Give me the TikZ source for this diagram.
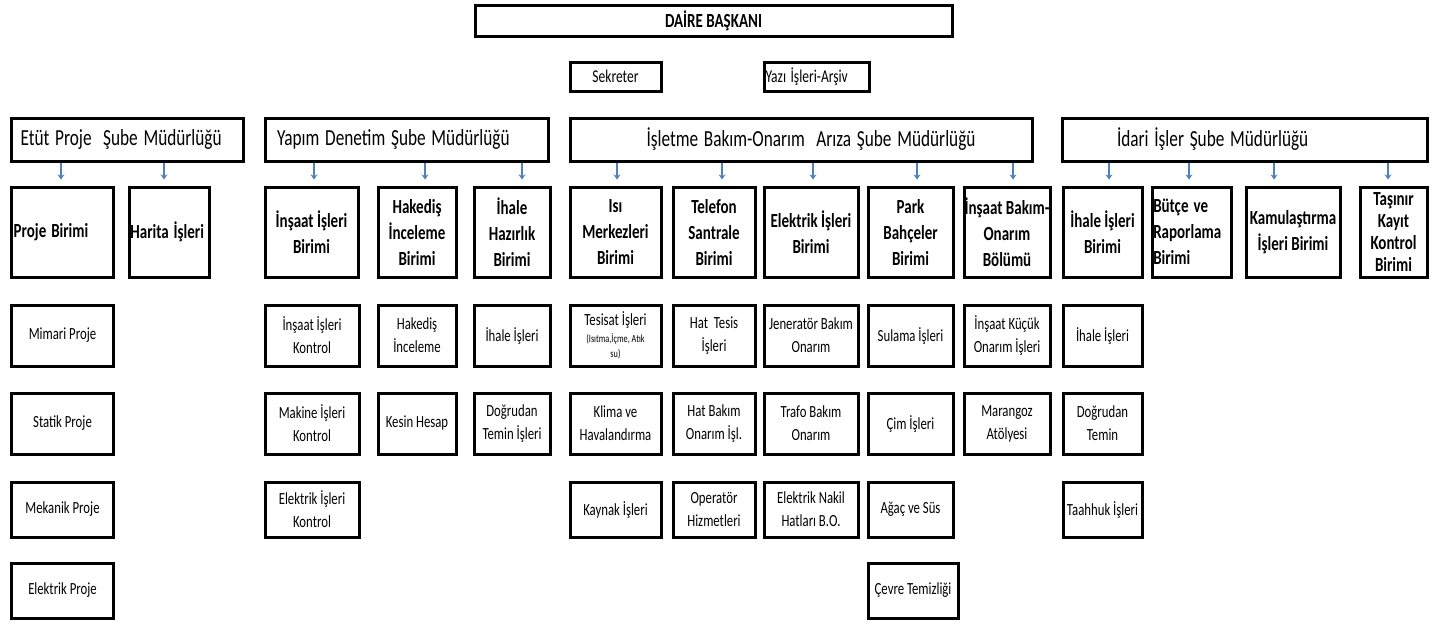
\documentclass[tikz,border=0pt]{standalone}
\usepackage{fontspec}
\setmainfont{Carlito}
\usetikzlibrary{arrows.meta,calc}
\definecolor{okmavi}{RGB}{80,129,189}

\begin{document}
\begin{tikzpicture}[x=1.3333pt,y=-1pt,xscale=0.75,
  every node/.append style={transform shape},
  kutustil/.style={draw,line width=3pt,inner sep=0pt},
  baskan/.style={kutustil,font=\bfseries\fontsize{20}{24}\selectfont},
  buro/.style={kutustil,font=\fontsize{18}{22}\selectfont},
  sube/.style={kutustil,align=left,font=\fontsize{23}{28}\selectfont},
  birim/.style={kutustil,align=center,font=\bfseries\fontsize{20}{26}\selectfont},
  altbirim/.style={kutustil,align=center,font=\fontsize{17}{23}\selectfont},
  okstil/.style={okmavi,line width=2pt,-{Stealth[length=5pt,width=7pt]}}]
\newcommand{\kutu}[7]{
  \node[#1,minimum width={(#5-#3)*4/3},minimum height={#6-#4}] (#2) at ({(#3+#5)/2},{(#4+#6)/2}) {#7};
}
\newcommand{\okciz}[3]{
  \draw[okstil] ($(#2.north |- #1.south)+(#3,0)$) -- ($(#2.north)+(#3,-6)$);
}
\useasboundingbox (0,0) rectangle (1445,624);

% baskanlik
\kutu{baskan}{daire}{475}{5}{952}{36}{DAİRE BAŞKANI}
\kutu{buro}{sekreter}{570}{62}{661}{91}{Sekreter}
\kutu{buro,align=left,text width=136pt}{yazi}{764}{62}{869}{91}{\mbox{Yazı İşleri-Arşiv}}

% sube mudurlukleri
\kutu{sube,inner xsep=10.7pt,text width=285pt}{etut}{12}{118}{243}{161}{\mbox{Etüt Proje~~Şube Müdürlüğü}}
\kutu{sube,inner xsep=16pt,text width=345pt}{yapim}{265}{118}{548}{161}{\mbox{Yapım Denetim Şube Müdürlüğü}}
\kutu{sube,inner xsep=102pt,text width=412pt}{isletme}{570}{118}{1032}{161}{\mbox{İşletme Bakım-Onarım~~Arıza Şube Müdürlüğü}}
\kutu{sube,inner xsep=73pt,text width=340pt}{idari}{1062}{118}{1427}{161}{\mbox{İdari İşler Şube Müdürlüğü}}

% birimler
\kutu{birim,align=left,text width=130pt}{proje}{12}{187}{113}{277}{Proje Birimi}
\kutu{birim,align=left,text width=103pt}{harita}{129}{187}{209}{277}{Harita İşleri}
\kutu{birim,align=left,text width=102pt}{butce}{1152}{187}{1231}{277}{Bütçe ve\\Raporlama\\Birimi}
\kutu{birim,font=\bfseries\fontsize{20}{22}\selectfont}{tasinir}{1360}{187}{1427}{277}{Taşınır\\Kayıt\\Kontrol\\Birimi}
\foreach \ad/\xa/\xb/\yazi in {
  insaat/265/358/{İnşaat İşleri\\Birimi},
  hakedis/378/456/{Hakediş\\İnceleme\\Birimi},
  ihaleh/474/550/{İhale\\Hazırlık\\Birimi},
  isi/570/661/{Isı\\Merkezleri\\Birimi},
  telefon/673/755/{Telefon\\Santrale\\Birimi},
  elektrik/764/858/{Elektrik İşleri\\Birimi},
  park/868/953/{Park\\Bahçeler\\Birimi},
  insbakim/964/1050/{İnşaat Bakım-\\Onarım\\Bölümü},
  ihaleidari/1063/1142/{İhale İşleri\\Birimi},
  kamu/1246/1340/{Kamulaştırma\\İşleri Birimi}}
  {\kutu{birim}{\ad}{\xa}{187}{\xb}{277}{\yazi}}

% alt birimler
\foreach \ad/\xa/\xb/\ya/\yb/\yazi in {
  mimari/12/113/305/366/Mimari Proje,
  statik/12/113/393/454/Statik Proje,
  mekanik/12/113/482/537/Mekanik Proje,
  elkproje/12/113/563/618/Elektrik Proje,
  insaatk/265/359/305/366/{İnşaat İşleri\\Kontrol},
  makinek/265/359/393/454/{Makine İşleri\\Kontrol},
  elektrikk/265/359/482/537/{Elektrik İşleri\\Kontrol},
  hakedisi/378/456/305/366/{Hakediş\\İnceleme},
  kesin/378/456/393/454/Kesin Hesap,
  ihaleis/474/550/305/366/İhale İşleri,
  dogrudan/474/550/393/454/{Doğrudan\\Temin İşleri},
  tesisat/570/661/305/366/{Tesisat İşleri\\[-6pt]{\fontsize{11}{13}\selectfont(Isıtma,İçme, Atık}\\[-8pt]{\fontsize{11}{13}\selectfont su)}},
  klima/570/661/393/454/{Klima ve\\Havalandırma},
  kaynak/570/661/482/537/Kaynak İşleri,
  hattesis/673/755/305/366/{Hat~~Tesis\\İşleri},
  hatbakim/673/755/393/454/{Hat Bakım\\Onarım İşl.},
  operator/673/755/482/537/{Operatör\\Hizmetleri},
  jenerator/764/858/305/366/{Jeneratör Bakım\\Onarım},
  trafo/764/858/393/454/{Trafo Bakım\\Onarım},
  nakil/764/858/482/537/{Elektrik Nakil\\Hatları B.O.},
  sulama/868/953/305/366/Sulama İşleri,
  cim/868/953/393/454/Çim İşleri,
  agac/868/953/482/537/Ağaç ve Süs,
  cevre/868/958/563/618/Çevre Temizliği,
  kucuk/964/1050/305/366/{İnşaat Küçük\\Onarım İşleri},
  marangoz/964/1050/393/454/{Marangoz\\Atölyesi},
  ihaleisi/1063/1142/305/366/İhale İşleri,
  dogrudant/1063/1142/393/454/{Doğrudan\\Temin},
  taahhuk/1063/1142/482/537/Taahhuk İşleri}
  {\kutu{altbirim}{\ad}{\xa}{\ya}{\xb}{\yb}{\yazi}}

% oklar
\okciz{etut}{proje}{-1.5}
\okciz{etut}{harita}{-5}
\okciz{yapim}{insaat}{2.5}
\okciz{yapim}{hakedis}{8}
\okciz{yapim}{ihaleh}{10}
\okciz{isletme}{isi}{1.5}
\okciz{isletme}{telefon}{8}
\okciz{isletme}{elektrik}{2}
\okciz{isletme}{park}{6.5}
\okciz{isletme}{insbakim}{6}
\okciz{idari}{ihaleidari}{6.5}
\okciz{idari}{butce}{-2.5}
\okciz{idari}{kamu}{-19}
\okciz{idari}{tasinir}{-5.5}
\end{tikzpicture}
\end{document}
